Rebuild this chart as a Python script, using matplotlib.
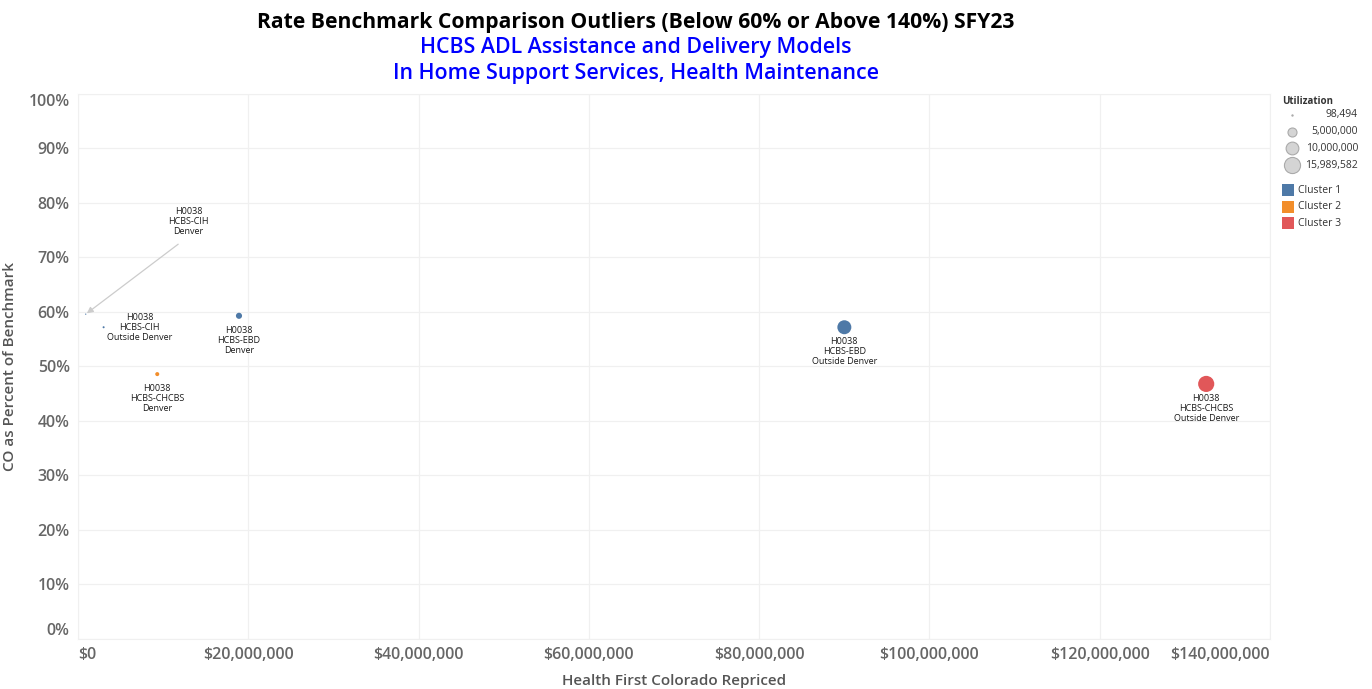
import matplotlib
matplotlib.use("Agg")
import matplotlib.pyplot as plt
from matplotlib.ticker import FuncFormatter

plt.rcParams['font.family'] = ['Open Sans', 'DejaVu Sans']

# data
services = ["HCBS-CIH", "HCBS-CIH", "HCBS-CHCBS", "HCBS-EBD", "HCBS-EBD", "HCBS-CHCBS"]
regions = ["Denver", "Outside Denver", "Denver", "Denver", "Outside Denver", "Outside Denver"]
repriced = [0.9e6, 3.0e6, 9.3e6, 18.9e6, 90.0e6, 132.5e6]
pct_benchmark = [0.596, 0.572, 0.486, 0.593, 0.572, 0.468]
utilization = [98494, 250000, 1000000, 2300000, 12000000, 15989582]
cluster = [1, 1, 2, 1, 1, 3]
code = "H0038"

x_ticks = [0, 20e6, 40e6, 60e6, 80e6, 100e6, 120e6, 140e6]
y_ticks = [0, 0.1, 0.2, 0.3, 0.4, 0.5, 0.6, 0.7, 0.8, 0.9, 1.0]
legend_sizes = [98494, 5000000, 10000000, 15989582]
cluster_colors = {1: "#4E79A7", 2: "#F28E2B", 3: "#E15759"}

max_util = 15989582
max_s = 135


def size_of(u):
    return u / max_util * max_s


fig = plt.figure(figsize=(13.72, 6.89), dpi=100)
ax = fig.add_axes([0.0569, 0.0726, 0.9257 - 0.0569, 0.8636 - 0.0726])

ax.scatter(repriced, pct_benchmark, s=[size_of(u) for u in utilization],
           c=[cluster_colors[c] for c in cluster], zorder=3, linewidths=0)

# labels
for i in range(len(repriced)):
    label = f"{code}\n{services[i]}\n{regions[i]}"
    if i == 0:
        ax.annotate(label, (repriced[i], pct_benchmark[i]), xytext=(74, 56),
                    textcoords="offset points", ha="center", va="bottom",
                    fontsize=6.5, color="#1a1a1a", linespacing=1.15,
                    arrowprops=dict(arrowstyle="-|>", color="#cccccc", lw=0.9,
                                    shrinkA=6, shrinkB=1, mutation_scale=9,
                                    relpos=(0.5, 0)))
    elif i == 1:
        ax.annotate(label, (repriced[i], pct_benchmark[i]), xytext=(26, 0),
                    textcoords="offset points", ha="center", va="center",
                    fontsize=6.5, color="#1a1a1a", linespacing=1.15)
    else:
        ax.annotate(label, (repriced[i], pct_benchmark[i]), xytext=(0, -7),
                    textcoords="offset points", ha="center", va="top",
                    fontsize=6.5, color="#1a1a1a", linespacing=1.15)

ax.set_xlim(0, 140e6)
ax.set_ylim(0, 1.0)
ax.set_xticks(x_ticks)
ax.set_yticks(y_ticks)
ax.xaxis.set_major_formatter(FuncFormatter(lambda v, p: f"${v:,.0f}"))
ax.yaxis.set_major_formatter(FuncFormatter(lambda v, p: f"{v * 100:.0f}%"))
ax.grid(True, color="#f0f0f0", lw=0.9)
ax.set_axisbelow(True)
for side in ["top", "right", "left", "bottom"]:
    ax.spines[side].set_color("#f0f0f0")
ax.tick_params(length=0, labelsize=11.5, labelcolor="#666666", pad=6)

ax.set_xlabel("Health First Colorado Repriced", fontsize=11, color="#555555",
              fontweight="semibold", labelpad=8)
ax.set_ylabel("CO as Percent of Benchmark", fontsize=11, color="#555555",
              fontweight="semibold", labelpad=8)

# titles
fig.text(0.4636, 0.968, "Rate Benchmark Comparison Outliers (Below 60% or Above 140%) SFY23",
         ha="center", va="center", fontsize=15.2, fontweight="bold", color="black")
fig.text(0.4636, 0.931, "HCBS ADL Assistance and Delivery Models",
         ha="center", va="center", fontsize=15.4, fontweight="semibold", color="#0000ff")
fig.text(0.4636, 0.893, "In Home Support Services, Health Maintenance",
         ha="center", va="center", fontsize=15.4, fontweight="semibold", color="#0000ff")

# legend panel on the right (pixel-like coordinates inside the panel)
lg = fig.add_axes([1280 / 1372, 1 - 230 / 689, 82 / 1372, 138 / 689])
lg.set_xlim(1280, 1362)
lg.set_ylim(230, 92)
lg.axis("off")
lg.text(1282, 101, "Utilization", fontsize=7, fontweight="bold",
        color="#333333", va="center", ha="left")
for j, u in enumerate(legend_sizes):
    yy = 115 + j * 16.7
    lg.scatter([1292], [yy], s=size_of(u), facecolor="#d4d4d4",
               edgecolor="#aaaaaa", linewidths=0.8, clip_on=False)
    lg.text(1358, yy, f"{u:,}", fontsize=7.5, color="#333333",
            va="center", ha="right")
for j, k in enumerate(cluster_colors):
    yy = 190 + j * 16.5
    lg.scatter([1288], [yy], s=64, marker="s", color=cluster_colors[k],
               linewidths=0, clip_on=False)
    lg.text(1298, yy, f"Cluster {k}", fontsize=7.5, color="#333333",
            va="center", ha="left")

# keep edge tick labels inside the plot span, as in the reference
xt_ticks = ax.xaxis.get_major_ticks()
yt_ticks = ax.yaxis.get_major_ticks()
for tk in xt_ticks + yt_ticks:
    tk.label1.set_fontweight("semibold")
xt_ticks[0].label1.set_ha("left")
xt_ticks[-1].label1.set_ha("right")
yt_ticks[0].label1.set_va("bottom")
yt_ticks[-1].label1.set_va("top")

fig.savefig("out.png", dpi=100)
